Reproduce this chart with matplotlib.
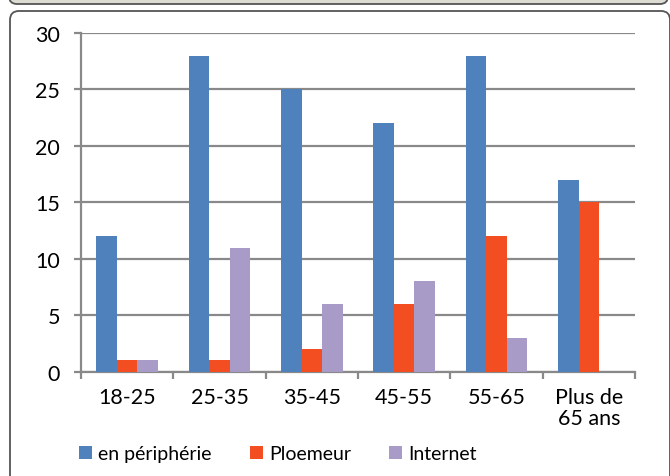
import matplotlib.pyplot as plt
import numpy as np
from matplotlib.patches import FancyBboxPatch, Patch

plt.rcParams['font.family'] = ['Lato', 'DejaVu Sans']

categories = ['18-25', '25-35', '35-45', '45-55', '55-65', 'Plus de\n65 ans']
peripherie = [12, 28, 25, 22, 28, 17]
ploemeur = [1, 1, 2, 6, 12, 15]
internet = [1, 11, 6, 8, 3, 0]
series_names = ['en périphérie', 'Ploemeur', 'Internet']
colors = ['#4F81BD', '#F24E22', '#A99BC8']

fig = plt.figure(figsize=(6.7, 4.77), dpi=100)

# fond : cadre gris du haut et cadre blanc du graphique
bg = fig.add_axes([0, 0, 1, 1], zorder=0)
bg.set_xlim(0, 670)
bg.set_ylim(477, 0)
bg.axis('off')
bg.add_patch(FancyBboxPatch((9, -30), 659, 35, boxstyle='round,pad=0,rounding_size=8',
                            facecolor='#DCDCD2', edgecolor='#555555', linewidth=1.3))
bg.add_patch(FancyBboxPatch((10, 12), 660, 480, boxstyle='round,pad=0,rounding_size=9',
                            facecolor='white', edgecolor='#555555', linewidth=1.3))

ax = fig.add_axes([81 / 670, 104.3 / 477, 554 / 670, 338.7 / 477], zorder=1)
ax.patch.set_alpha(0)

x = np.arange(len(categories))
w = 0.223
for i, (vals, c) in enumerate(zip([peripherie, ploemeur, internet], colors)):
    ax.bar(x + (i - 1) * w, vals, width=w, color=c, zorder=3)

ax.set_xlim(-0.5, len(categories) - 0.5)
ax.set_ylim(0, 30)
ax.set_yticks(range(0, 31, 5))
ax.yaxis.grid(True, color='#898989', linewidth=1.6)
ax.set_axisbelow(True)

# graduations aux limites des catégories, libellés au centre
ax.set_xticks(np.arange(len(categories) + 1) - 0.5)
ax.set_xticklabels([])
ax.set_xticks(x, minor=True)
ax.set_xticklabels(categories, minor=True, fontsize=15.5, linespacing=1.05)
ax.tick_params(axis='x', which='minor', length=0, pad=11)
ax.tick_params(axis='x', which='major', length=5, width=1.6, color='#898989')
ax.tick_params(axis='y', length=5, width=1.6, color='#898989', labelsize=15.5, pad=10)

for s in ['top', 'right']:
    ax.spines[s].set_visible(False)
for s in ['left', 'bottom']:
    ax.spines[s].set_color('#898989')
    ax.spines[s].set_linewidth(1.6)

handles = [Patch(facecolor=c, edgecolor='none') for c in colors]
fig.legend(handles, series_names, loc='center left', bbox_to_anchor=(79 / 670, 22 / 477),
           ncol=3, frameon=False, fontsize=14, handlelength=0.65, handleheight=0.65,
           handletextpad=0.35, columnspacing=1.95, borderpad=0, borderaxespad=0)

fig.savefig('out.png', dpi=100)
